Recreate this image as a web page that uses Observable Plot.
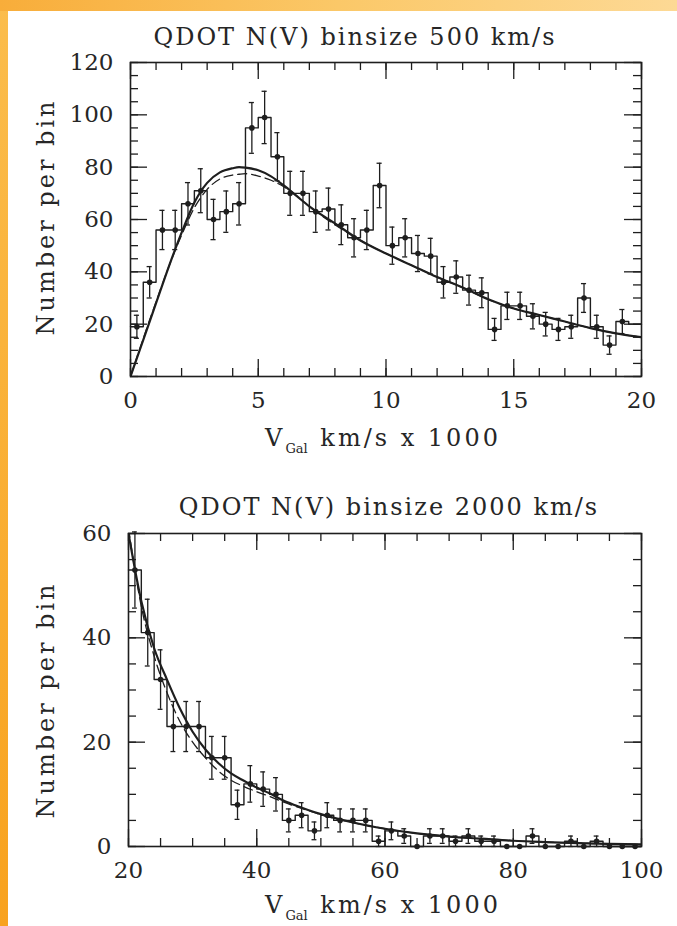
<!DOCTYPE html>
<html><head><meta charset="utf-8">
<script src="https://cdn.jsdelivr.net/npm/d3@7"></script>
<script src="https://cdn.jsdelivr.net/npm/@observablehq/plot@0.6"></script>
<style>
html,body{margin:0;padding:0;}
body{width:677px;height:926px;position:relative;overflow:hidden;background:linear-gradient(to bottom,#fbbd4c,#f8a21e);}
#topband{position:absolute;left:0;top:0;width:677px;height:11px;background:linear-gradient(to right,#f8ad3a,#fbc868 50%,#fdd995);}
#panel{position:absolute;left:8px;top:11px;right:0;bottom:0;background:#fff;}
.t{position:absolute;font-family:"DejaVu Serif",serif;color:#262626;white-space:nowrap;font-size:24px;line-height:1;}
.ttl{letter-spacing:2px;}
.lab{letter-spacing:3px;}
.c{transform:translate(-50%,-50%);}
.r{transform:translate(-50%,-50%) rotate(-90deg);}
.sub{font-size:13px;position:relative;top:7px;letter-spacing:0;margin-right:2px;}
.plot{position:absolute;left:0;}
</style></head>
<body>
<div id="topband"></div>
<div id="panel"></div>
<div id="p1" class="plot" style="top:0px"></div>
<div id="p2" class="plot" style="top:470px"></div>
<div class="t c ttl" style="left:355px;top:37px">QDOT N(V) binsize 500 km/s</div>
<div class="t c lab" style="left:383px;top:438px">V<span class="sub">Gal</span> km/s x 1000</div>
<div class="t r lab" style="left:46px;top:217px">Number per bin</div>
<div class="t c ttl" style="left:389px;top:507px">QDOT N(V) binsize 2000 km/s</div>
<div class="t c lab" style="left:383px;top:905px">V<span class="sub">Gal</span> km/s x 1000</div>
<div class="t r lab" style="left:46px;top:700px">Number per bin</div>
<script>
// ---------- data: top panel (bins of 500 km/s, x in 1000 km/s) ----------
const start500 = 0;
const binsize500 = 0.5;
const counts500 = [19,36,56,56,66,71,60,63,66,95,99,84,70,70,63,64,58,53,56,73,50,53,47,46,36,38,33,32,18,27,27,23,20,18,19,30,19,12,21,20];
const err500    = [4.4,6,7.5,7.5,8.1,8.4,7.7,7.9,8.1,9.7,10,9.2,8.4,8.4,7.9,8,7.6,7.3,7.5,8.5,7.1,7.3,6.9,6.8,6,6.2,5.7,5.7,4.2,5.2,5.2,4.8,4.5,4.2,4.4,5.5,4.4,3.5,4.6,4.5];
const fitX500     = [0,0.5,1,1.5,2,2.5,3,3.5,4,4.25,4.5,5,5.5,6,6.5,7,8,9,10,11,12,13,14,15,16,17,18,19,20];
const fitSolid500 = [0,14,28,42,55,66.5,74,78,79.6,80,79.8,78.8,76.5,73,69,65,58.5,52,47,42.5,38,34,29.5,26,23.5,21,18.5,16.5,15];
const fitDash500  = [0,14.5,28.5,42,54,64.5,71.5,75.5,77,77.3,77.5,76.6,75,72.5,69,65,58,52,47,42.5,38,34,29.5,26,23.5,21,18.5,16.5,15];
const xTicks500 = [0,5,10,15,20];
const yTicks500 = [0,20,40,60,80,100,120];

// ---------- data: bottom panel (bins of 2000 km/s) ----------
const start2000 = 20;
const binsize2000 = 2;
const counts2000 = [53,41,32,23,23,23,17,17,8,12,11,10,5,6,3,6,5,5,5,1,3,2,0,2,2,1,2,1,1,0,0,2,0,0,1,0,1,0,0,0];
const err2000    = [7.3,6.4,5.7,4.8,4.8,4.8,4.1,4.1,2.8,3.5,3.3,3.2,2.2,2.4,1.7,2.4,2.2,2.2,2.2,1,1.7,1.4,0,1.4,1.4,1,1.4,1,1,0,0,1.4,0,0,1,0,1,0,0,0];
const fitX2000     = [20,22,24,26,28,30,32,34,36,38,40,42,44,46,48,50,55,60,65,70,75,80,85,90,95,100];
const fitSolid2000 = [60,47,38,32,26.5,22,18.6,16,14,12.6,11.3,10.2,8.9,7.9,7,6.2,4.6,3.4,2.5,1.9,1.5,1.1,0.85,0.65,0.5,0.4];
const fitDash2000  = [61,46,36.5,29.5,24,20,17,14.5,12.7,11.5,10.5,9.6,8.6,7.7,6.9,6.1,4.6,3.4,2.5,1.9,1.5,1.1,0.85,0.65,0.5,0.4];
const xTicks2000 = [20,40,60,80,100];
const yTicks2000 = [0,20,40,60];

const INK = "#1e1e1e";

function panel(o) {
  const W = 677, H = 420;
  const innerW = W - o.ml - o.mr, innerH = H - o.mt - o.mb;
  const n = o.counts.length;
  const bins = o.counts.map((v, i) => ({lo: o.start + i*o.bs, c: o.start + (i+0.5)*o.bs, v, e: o.err[i]}));
  const steps = bins.map(b => ({x: b.lo, y: b.v})).concat([{x: o.start + n*o.bs, y: o.counts[n-1]}]);
  const bars = bins.filter(b => b.e > 0 && b.c < o.dotMax);
  const dots = bins.filter(b => b.c < o.dotMax);
  const fitS = o.fitX.map((x, i) => ({x, y: o.fitS[i]}));
  const fitD = o.fitX.map((x, i) => ({x, y: o.fitD[i]}));
  const minorLen = 8, majorLen = 17;
  const tickMarks = [];
  for (const [vals, len] of [[o.xMinor, minorLen], [o.xMajor, majorLen]]) {
    tickMarks.push(Plot.tickX(vals, {x: d => d, stroke: INK, strokeWidth: 1.3, insetTop: innerH - len}));
    tickMarks.push(Plot.tickX(vals, {x: d => d, stroke: INK, strokeWidth: 1.3, insetBottom: innerH - len}));
  }
  for (const [vals, len] of [[o.yMinor, minorLen], [o.yMajor, majorLen]]) {
    tickMarks.push(Plot.tickY(vals, {y: d => d, stroke: INK, strokeWidth: 1.3, insetRight: innerW - len}));
    tickMarks.push(Plot.tickY(vals, {y: d => d, stroke: INK, strokeWidth: 1.3, insetLeft: innerW - len}));
  }
  return Plot.plot({
    width: W, height: H,
    marginLeft: o.ml, marginRight: o.mr, marginTop: o.mt, marginBottom: o.mb,
    style: {fontFamily: "'DejaVu Serif', serif", fontSize: "23px", color: "#262626", background: "transparent", overflow: "visible"},
    x: {domain: o.xDomain},
    y: {domain: o.yDomain},
    marks: [
      Plot.line(steps, {x: "x", y: "y", curve: "step-after", stroke: INK, strokeWidth: 1.4}),
      Plot.ruleX(bars, {x: "c", y1: d => d.v - d.e, y2: d => d.v + d.e, stroke: INK, strokeWidth: 1.3}),
      Plot.ruleY(bars, {y: d => d.v - d.e, x1: d => d.c - o.cap, x2: d => d.c + o.cap, stroke: INK, strokeWidth: 1.3}),
      Plot.ruleY(bars, {y: d => d.v + d.e, x1: d => d.c - o.cap, x2: d => d.c + o.cap, stroke: INK, strokeWidth: 1.3}),
      Plot.dot(dots, {x: "c", y: "v", r: 2.8, fill: INK, stroke: "none"}),
      Plot.line(fitD, {x: "x", y: "y", curve: "monotone-x", stroke: INK, strokeWidth: 1.3, strokeDasharray: "9,5", clip: true}),
      Plot.line(fitS, {x: "x", y: "y", curve: "monotone-x", stroke: INK, strokeWidth: 2.2, clip: true}),
      ...tickMarks,
      Plot.frame({stroke: INK, strokeWidth: 1.6}),
      Plot.axisX(o.xLabels, {anchor: "bottom", tickSize: 0, tickPadding: 15, fontSize: 23, label: null}),
      Plot.axisY(o.yLabels, {anchor: "left", tickSize: 0, tickPadding: 17, fontSize: 23, label: null})
    ]
  });
}

document.getElementById("p1").appendChild(panel({
  ml: 130, mr: 36, mt: 62, mb: 44,
  start: start500, bs: binsize500, counts: counts500, err: err500,
  fitX: fitX500, fitS: fitSolid500, fitD: fitDash500,
  xDomain: [0, 20], yDomain: [0, 120],
  xMinor: d3.range(0, 21, 1), xMajor: xTicks500,
  yMinor: d3.range(0, 121, 5), yMajor: yTicks500,
  xLabels: xTicks500, yLabels: yTicks500,
  cap: 0.1, dotMax: 19.5
}));
document.getElementById("p2").appendChild(panel({
  ml: 128, mr: 36, mt: 63, mb: 44,
  start: start2000, bs: binsize2000, counts: counts2000, err: err2000,
  fitX: fitX2000, fitS: fitSolid2000, fitD: fitDash2000,
  xDomain: [20, 100], yDomain: [0, 60],
  xMinor: d3.range(20, 101, 5), xMajor: xTicks2000,
  yMinor: d3.range(0, 61, 5), yMajor: yTicks2000,
  xLabels: xTicks2000, yLabels: yTicks2000,
  cap: 0.38, dotMax: 100
}));
</script>
</body></html>
